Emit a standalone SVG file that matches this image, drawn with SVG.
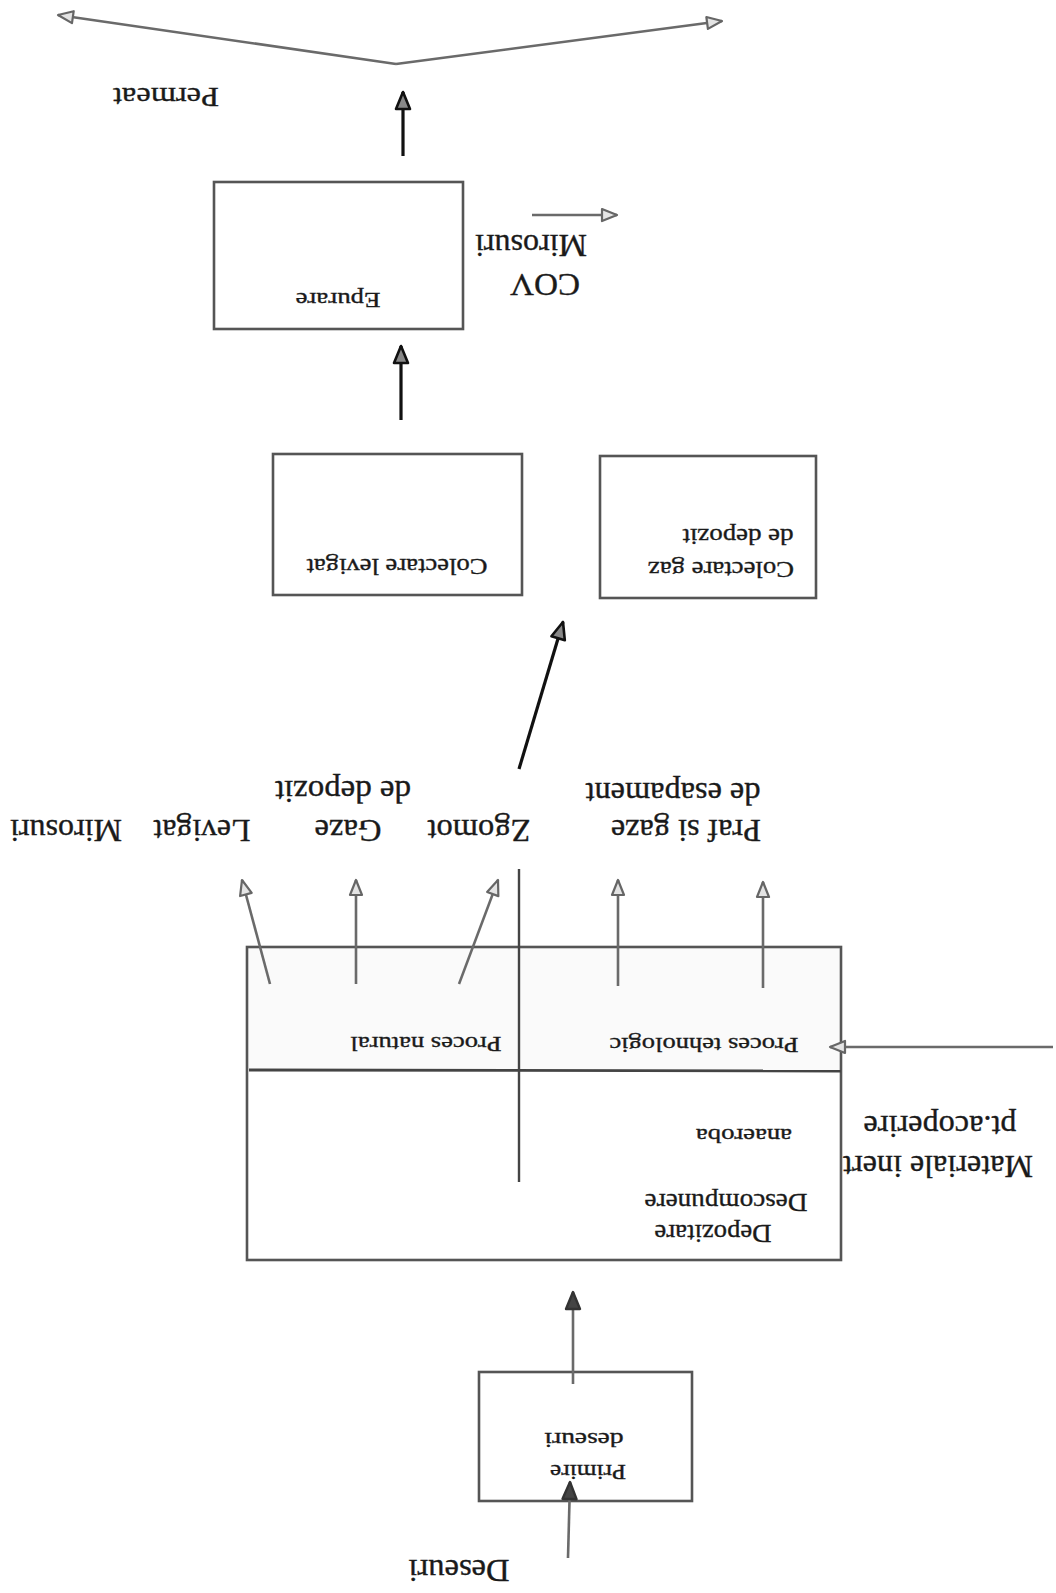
<svg xmlns="http://www.w3.org/2000/svg" width="1056" height="1593" viewBox="0 0 1056 1593">
<defs>
<marker id="og" markerUnits="userSpaceOnUse" markerWidth="20" markerHeight="20" viewBox="0 0 20 20" refX="18" refY="10" orient="auto">
<path d="M3,4 L18,10 L3,16 Z" fill="#e4e4e4" stroke="#666" stroke-width="2.2" stroke-linejoin="round"/>
</marker>
<marker id="bk" markerUnits="userSpaceOnUse" markerWidth="22" markerHeight="22" viewBox="0 0 22 22" refX="20" refY="11" orient="auto">
<path d="M3,4 L20,11 L3,18 Z" fill="#888" stroke="#111" stroke-width="2.6" stroke-linejoin="round"/>
</marker>
<marker id="bk2" markerUnits="userSpaceOnUse" markerWidth="22" markerHeight="22" viewBox="0 0 22 22" refX="20" refY="11" orient="auto">
<path d="M3,4 L20,11 L3,18 Z" fill="#444" stroke="#333" stroke-width="2.4" stroke-linejoin="round"/>
</marker>
</defs>
<style>
text{font-family:"Liberation Serif","Times New Roman",serif;fill:#1a1a1a;stroke:#1a1a1a;stroke-width:0.35;text-anchor:middle;dominant-baseline:central}
.box{fill:none;stroke:#555;stroke-width:2.6}
.g{stroke:#6a6a6a;stroke-width:2.6;fill:none}
.b{stroke:#111;stroke-width:3.2;fill:none}
.s20{font-size:20px}.s21{font-size:21px}.s22{font-size:22px}.s23{font-size:23px}.s25{font-size:25px}.s28{font-size:28px}.s31{font-size:31px}
</style>
<rect width="1056" height="1593" fill="#fff"/>

<g id="permeat"><text class="s28" x="166" y="97" textLength="106" lengthAdjust="spacingAndGlyphs" transform="rotate(180 166 97)">Permeat</text></g>

<g id="epurare">
<rect class="box" x="214" y="182" width="249" height="147"/>
<text class="s22" x="338" y="300" textLength="85" lengthAdjust="spacingAndGlyphs" transform="rotate(180 338 300)">Epurare</text>
</g>

<g id="cov-mirosuri">
<text class="s31" x="531" y="245" textLength="112" lengthAdjust="spacingAndGlyphs" transform="rotate(180 531 245)">Mirosuri</text>
<text class="s31" x="545" y="284" textLength="70" lengthAdjust="spacingAndGlyphs" transform="rotate(180 545 284)">COV</text>
</g>

<g id="colectare-levigat">
<rect class="box" x="273" y="454" width="249" height="141"/>
<text class="s23" x="397" y="566" textLength="181" lengthAdjust="spacingAndGlyphs" transform="rotate(180 397 566)">Colectare levigat</text>
</g>

<g id="colectare-gaz">
<rect class="box" x="600" y="456" width="216" height="142"/>
<text class="s23" x="721" y="569" textLength="146" lengthAdjust="spacingAndGlyphs" transform="rotate(180 721 569)">Colectare gaz</text>
<text class="s23" x="738" y="536" textLength="111" lengthAdjust="spacingAndGlyphs" transform="rotate(180 738 536)">de depozit</text>
</g>

<g id="emisii">
<text class="s31" x="66" y="830" textLength="112" lengthAdjust="spacingAndGlyphs" transform="rotate(180 66 830)">Mirosuri</text>
<text class="s31" x="202" y="830" textLength="97" lengthAdjust="spacingAndGlyphs" transform="rotate(180 202 830)">Levigat</text>
<text class="s31" x="348" y="830" textLength="67" lengthAdjust="spacingAndGlyphs" transform="rotate(180 348 830)">Gaze</text>
<text class="s31" x="343" y="791" textLength="136" lengthAdjust="spacingAndGlyphs" transform="rotate(180 343 791)">de depozit</text>
<text class="s31" x="479" y="830" textLength="103" lengthAdjust="spacingAndGlyphs" transform="rotate(180 479 830)">Zgomot</text>
<text class="s31" x="686" y="830" textLength="150" lengthAdjust="spacingAndGlyphs" transform="rotate(180 686 830)">Praf si gaze</text>
<text class="s31" x="673" y="793" textLength="175" lengthAdjust="spacingAndGlyphs" transform="rotate(180 673 793)">de esapament</text>
</g>

<g id="depozit">
<rect x="247" y="947" width="594" height="123" fill="#fafafa"/>
<rect class="box" x="247" y="947" width="594" height="313"/>
<line x1="249" y1="1070" x2="841" y2="1071" stroke="#444" stroke-width="2.8"/>
<line x1="519" y1="869" x2="519" y2="1182" stroke="#444" stroke-width="2.4"/>
<text class="s22" x="426" y="1044" textLength="151" lengthAdjust="spacingAndGlyphs" transform="rotate(180 426 1044)">Proces natural</text>
<text class="s22" x="704" y="1045" textLength="189" lengthAdjust="spacingAndGlyphs" transform="rotate(180 704 1045)">Proces tehnologic</text>
<text class="s20" x="744" y="1136" textLength="96" lengthAdjust="spacingAndGlyphs" transform="rotate(180 744 1136)">anaeroba</text>
<text class="s25" x="726" y="1202" textLength="163" lengthAdjust="spacingAndGlyphs" transform="rotate(180 726 1202)">Descompunere</text>
<text class="s25" x="713" y="1233" textLength="117" lengthAdjust="spacingAndGlyphs" transform="rotate(180 713 1233)">Depozitare</text>
</g>

<g id="materiale-inert">
<text class="s31" x="938" y="1166" textLength="190" lengthAdjust="spacingAndGlyphs" transform="rotate(180 938 1166)">Materiale inert</text>
<text class="s31" x="940" y="1126" textLength="153" lengthAdjust="spacingAndGlyphs" transform="rotate(180 940 1126)">pt.acoperire</text>
</g>

<g id="primire-deseuri">
<rect class="box" x="479" y="1372" width="213" height="129"/>
<text class="s21" x="588" y="1472" textLength="76" lengthAdjust="spacingAndGlyphs" transform="rotate(180 588 1472)">Primire</text>
<text class="s21" x="584" y="1440" textLength="79" lengthAdjust="spacingAndGlyphs" transform="rotate(180 584 1440)">deseuri</text>
</g>

<g id="deseuri"><text class="s31" x="459" y="1570" textLength="101" lengthAdjust="spacingAndGlyphs" transform="rotate(180 459 1570)">Deseuri</text></g>

<g id="connectors">
<line class="g" x1="396" y1="64" x2="58" y2="15" stroke-width="3.4" marker-end="url(#og)"/>
<line class="g" x1="396" y1="64" x2="722" y2="21" stroke-width="3.4" marker-end="url(#og)"/>
<line class="b" x1="403" y1="156" x2="403" y2="92" marker-end="url(#bk)"/>
<line class="g" x1="532" y1="215" x2="617" y2="215" marker-end="url(#og)"/>
<line class="b" x1="401" y1="420" x2="401" y2="346" marker-end="url(#bk)"/>
<line class="b" x1="519" y1="769" x2="563" y2="622" marker-end="url(#bk)"/>
<line class="g" x1="270" y1="984" x2="242" y2="880" marker-end="url(#og)"/>
<line class="g" x1="356" y1="984" x2="356" y2="880" marker-end="url(#og)"/>
<line class="g" x1="459" y1="984" x2="498" y2="880" marker-end="url(#og)"/>
<line class="g" x1="618" y1="986" x2="618" y2="880" marker-end="url(#og)"/>
<line class="g" x1="763" y1="988" x2="763" y2="882" marker-end="url(#og)"/>
<line class="g" x1="1053" y1="1047" x2="830" y2="1047" marker-end="url(#og)"/>
<line class="g" x1="573" y1="1384" x2="573" y2="1292" marker-end="url(#bk2)"/>
<line class="g" x1="568" y1="1558" x2="570" y2="1482" marker-end="url(#bk2)"/>
</g>
</svg>
